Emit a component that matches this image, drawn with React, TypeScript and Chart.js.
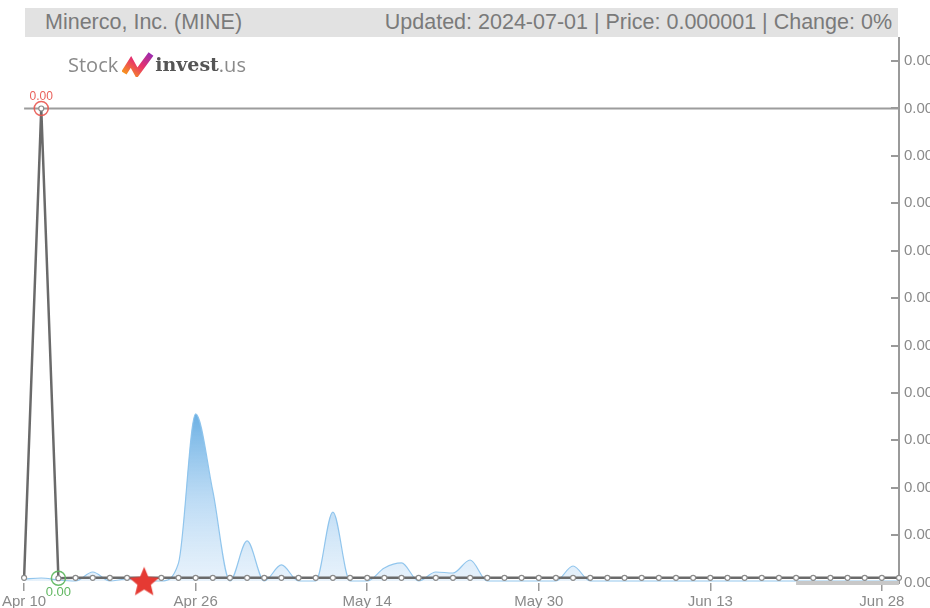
import React, { useEffect, useRef } from "react";
import { Chart, registerables } from "chart.js";

Chart.register(...registerables);

// ---------- data ----------
const dates = [
  "Apr 10", "Apr 11", "Apr 12", "Apr 15", "Apr 16", "Apr 17", "Apr 18", "Apr 19", "Apr 22", "Apr 24",
  "Apr 26", "Apr 29", "Apr 30", "May 1", "May 2", "May 3", "May 6", "May 7", "May 9", "May 10",
  "May 14", "May 15", "May 16", "May 17", "May 20", "May 21", "May 22", "May 23", "May 24", "May 28",
  "May 30", "May 31", "Jun 3", "Jun 4", "Jun 5", "Jun 6", "Jun 7", "Jun 10", "Jun 11", "Jun 12",
  "Jun 13", "Jun 14", "Jun 17", "Jun 18", "Jun 20", "Jun 21", "Jun 24", "Jun 25", "Jun 26", "Jun 27",
  "Jun 28", "Jul 1",
];

const price = [
  0.000001, 0.0001, 0.0000009, 0.000001, 0.000001, 0.000001, 0.000001, 0.000001, 0.000001, 0.000001,
  0.000001, 0.000001, 0.000001, 0.000001, 0.000001, 0.000001, 0.000001, 0.000001, 0.000001, 0.000001,
  0.000001, 0.000001, 0.000001, 0.000001, 0.000001, 0.000001, 0.000001, 0.000001, 0.000001, 0.000001,
  0.000001, 0.000001, 0.000001, 0.000001, 0.000001, 0.000001, 0.000001, 0.000001, 0.000001, 0.000001,
  0.000001, 0.000001, 0.000001, 0.000001, 0.000001, 0.000001, 0.000001, 0.000001, 0.000001, 0.000001,
  0.000001, 0.000001,
];

const volume = [
  3700, 5500, 1800, 0, 16600, 0, 3700, 0, 0, 33000,
  307600, 165800, 0, 73700, 0, 29500, 0, 0, 127000, 0,
  0, 24000, 33200, 0, 16600, 14700, 38700, 0, 0, 0,
  0, 0, 27600, 0, 0, 0, 0, 0, 0, 0,
  0, 0, 0, 0, 0, 0, 0, 0, 0, 0,
  0, 0,
];

const priceTicks = [
  0, 0.00001, 0.00002, 0.00003, 0.00004, 0.00005, 0.00006, 0.00007, 0.00008, 0.00009, 0.0001, 0.00011,
];
const PRICE_MIN = -0.0000001;
const PRICE_MAX = 0.00011487;
const VOL_MIN = -3700;
const VOL_MAX = 1000000;

const signals = [{ date: "Apr 19", value: 0 }];
const bandDates = ["Jun 21", "Jun 24", "Jun 25", "Jun 26", "Jun 27", "Jun 28", "Jul 1"];

const TITLE_LEFT = "Minerco, Inc. (MINE)";
const TITLE_RIGHT = "Updated: 2024-07-01 | Price: 0.000001 | Change: 0%";

const FONT = "'Liberation Sans', Arial, sans-serif";

function makeStar(R: number, color: string) {
  const c = document.createElement("canvas");
  const size = Math.ceil(R * 2) + 2;
  c.width = size;
  c.height = size;
  const g = c.getContext("2d")!;
  g.fillStyle = color;
  g.beginPath();
  for (let k = 0; k < 10; k++) {
    const r = k % 2 === 0 ? R : R * 0.45;
    const a = -Math.PI / 2 + (k * Math.PI) / 5;
    const x = size / 2 + r * Math.cos(a);
    const y = size / 2 + r * Math.sin(a);
    if (k === 0) g.moveTo(x, y);
    else g.lineTo(x, y);
  }
  g.closePath();
  g.fill();
  return c;
}

const PRICE_DS = 2;

const markerPlugin = {
  id: "minmaxMarkers",
  afterDatasetsDraw(chart: any) {
    const meta = chart.getDatasetMeta(PRICE_DS);
    if (!meta || !meta.data.length) return;
    let maxI = 0;
    let minI = 0;
    price.forEach((v, i) => {
      if (v > price[maxI]) maxI = i;
      if (v < price[minI]) minI = i;
    });
    const pMax = meta.data[maxI];
    const pMin = meta.data[minI];
    const ctx = chart.ctx;
    ctx.save();
    ctx.lineWidth = 1.5;
    ctx.textAlign = "center";
    ctx.textBaseline = "middle";
    ctx.font = `12px ${FONT}`;
    // max
    ctx.strokeStyle = "rgba(232,86,80,0.9)";
    ctx.beginPath();
    ctx.arc(pMax.x, pMax.y, 7, 0, Math.PI * 2);
    ctx.stroke();
    ctx.fillStyle = "rgba(232,86,80,0.95)";
    ctx.fillText(price[maxI].toFixed(2), pMax.x, pMax.y - 12);
    // min
    ctx.strokeStyle = "rgba(98,184,98,0.95)";
    ctx.beginPath();
    ctx.arc(pMin.x, pMin.y, 7, 0, Math.PI * 2);
    ctx.stroke();
    ctx.fillStyle = "rgba(98,184,98,1)";
    ctx.font = `13px ${FONT}`;
    ctx.fillText(price[minI].toFixed(2), pMin.x, pMin.y + 14);
    ctx.restore();
  },
};

function ChartCanvas() {
  const ref = useRef<HTMLCanvasElement | null>(null);
  useEffect(() => {
    if (!ref.current) return;
    const maxPrice = Math.max(...price);
    const maxVol = Math.max(...volume);
    const star = makeStar(15.7, "#e53a33");
    const chart = new Chart(ref.current, {
      type: "line",
      data: {
        labels: dates,
        datasets: [
          {
            label: "signal",
            data: signals.map((s) => ({ x: s.date, y: s.value })) as any,
            yAxisID: "y",
            showLine: false,
            pointStyle: star as any,
            pointRadius: 16,
            clip: false as any,
            order: 0,
          },
          {
            label: "band",
            data: bandDates.map((d) => ({ x: d, y: PRICE_MIN })) as any,
            yAxisID: "y",
            borderColor: "rgba(200,200,200,1)",
            borderWidth: 4,
            pointRadius: 0,
            clip: false as any,
            order: 1,
          },
          {
            label: "price",
            data: price,
            yAxisID: "y",
            borderColor: "#6a6a6a",
            borderWidth: 2.5,
            tension: 0,
            pointRadius: 2.5,
            pointBackgroundColor: "#ffffff",
            pointBorderColor: "#8c8c8c",
            pointBorderWidth: 1.2,
            order: 2,
          },
          {
            label: "max",
            data: [
              { x: dates[0], y: maxPrice },
              { x: dates[dates.length - 1], y: maxPrice },
            ] as any,
            yAxisID: "y",
            borderColor: "#9c9c9c",
            borderWidth: 2,
            pointRadius: 0,
            order: 3,
          },
          {
            label: "volume",
            data: volume,
            yAxisID: "yVol",
            fill: "origin",
            tension: 0.4,
            cubicInterpolationMode: "monotone",
            pointRadius: 0,
            borderWidth: 1.2,
            borderColor: "rgba(140,195,236,0.95)",
            backgroundColor: (c: any) => {
              const ch = c.chart;
              const area = ch.chartArea;
              if (!area) return "rgba(150,200,240,0.5)";
              const yTop = ch.scales.yVol.getPixelForValue(maxVol);
              const g = ch.ctx.createLinearGradient(0, yTop, 0, area.bottom);
              g.addColorStop(0, "rgba(100,172,226,0.95)");
              g.addColorStop(0.5, "rgba(160,204,240,0.7)");
              g.addColorStop(1, "rgba(210,230,248,0.5)");
              return g;
            },
            order: 4,
          },
        ],
      },
      options: {
        animation: false,
        responsive: false,
        events: [],
        layout: { autoPadding: false, padding: { left: 24, top: 38, right: 0, bottom: 0 } },
        plugins: {
          legend: { display: false },
          tooltip: { enabled: false },
          title: { display: false },
        },
        scales: {
          x: {
            type: "category",
            offset: false,
            grid: {
              drawOnChartArea: false,
              drawTicks: true,
              tickLength: 8,
              color: "#9a9a9a",
              lineWidth: 1.5,
            },
            border: { display: false },
            ticks: {
              autoSkip: false,
              maxRotation: 0,
              minRotation: 0,
              padding: 2,
              color: "#8a8a8a",
              font: { family: FONT, size: 15 },
            },
            afterBuildTicks: (scale: any) => {
              scale.ticks = scale.ticks.filter((t: any) => t.value % 10 === 0);
            },
            afterFit: (scale: any) => {
              scale.height = 25;
            },
          },
          y: {
            type: "linear",
            position: "right",
            min: PRICE_MIN,
            max: PRICE_MAX,
            grid: {
              drawOnChartArea: false,
              drawTicks: true,
              tickLength: -8,
              color: "#999999",
              lineWidth: 2,
            },
            border: { display: true, color: "#9a9a9a", width: 2 },
            ticks: {
              padding: 13,
              color: "#8a8a8a",
              font: { family: FONT, size: 15 },
              callback: (v: any) => Number(v).toFixed(2),
            },
            afterBuildTicks: (scale: any) => {
              scale.ticks = priceTicks.map((v) => ({ value: v }));
            },
            afterFit: (scale: any) => {
              scale.width = 31;
            },
          },
          yVol: {
            type: "linear",
            display: false,
            min: VOL_MIN,
            max: VOL_MAX,
          },
        },
      },
      plugins: [markerPlugin],
    });
    return () => chart.destroy();
  }, []);
  return <canvas ref={ref} width={930} height={608} style={{ display: "block" }} />;
}

function Logo() {
  return (
    <div
      style={{
        position: "absolute",
        left: 68,
        top: 50,
        height: 28,
        display: "flex",
        alignItems: "center",
        whiteSpace: "nowrap",
      }}
    >
      <span style={{ fontFamily: "'Open Sans', sans-serif", fontSize: 20, color: "#8a8a8a" }}>Stock</span>
      <svg width="32" height="26" viewBox="0 0 32 26" style={{ margin: "0 1px 0 4px" }}>
        <defs>
          <linearGradient id="lgIcon" x1="0" y1="1" x2="1" y2="0">
            <stop offset="0" stopColor="#f7941d" />
            <stop offset="0.5" stopColor="#e8326a" />
            <stop offset="1" stopColor="#9b2bb0" />
          </linearGradient>
        </defs>
        <polyline
          points="2,22 9,11 15,22 29,3"
          fill="none"
          stroke="url(#lgIcon)"
          strokeWidth="6"
          strokeLinejoin="miter"
        />
      </svg>
      <span style={{ fontFamily: "'DejaVu Serif', serif", fontWeight: 700, fontSize: 19, color: "#555" }}>
        invest
      </span>
      <span style={{ fontFamily: "'Open Sans', sans-serif", fontSize: 20, color: "#8a8a8a" }}>.us</span>
    </div>
  );
}

export default function App() {
  return (
    <div style={{ position: "absolute", left: 0, top: 0, width: 930, height: 608, overflow: "hidden", background: "#fff" }}>
      <ChartCanvas />
      <div
        style={{
          position: "absolute",
          left: 25,
          top: 8,
          width: 873,
          height: 29,
          background: "#e2e2e2",
          display: "flex",
          justifyContent: "space-between",
          alignItems: "center",
          boxSizing: "border-box",
          padding: "0 6px 0 20px",
          fontFamily: FONT,
          fontSize: 21.5,
          color: "#7a7a7a",
          whiteSpace: "nowrap",
        }}
      >
        <span>{TITLE_LEFT}</span>
        <span>{TITLE_RIGHT}</span>
      </div>
      <Logo />
    </div>
  );
}
